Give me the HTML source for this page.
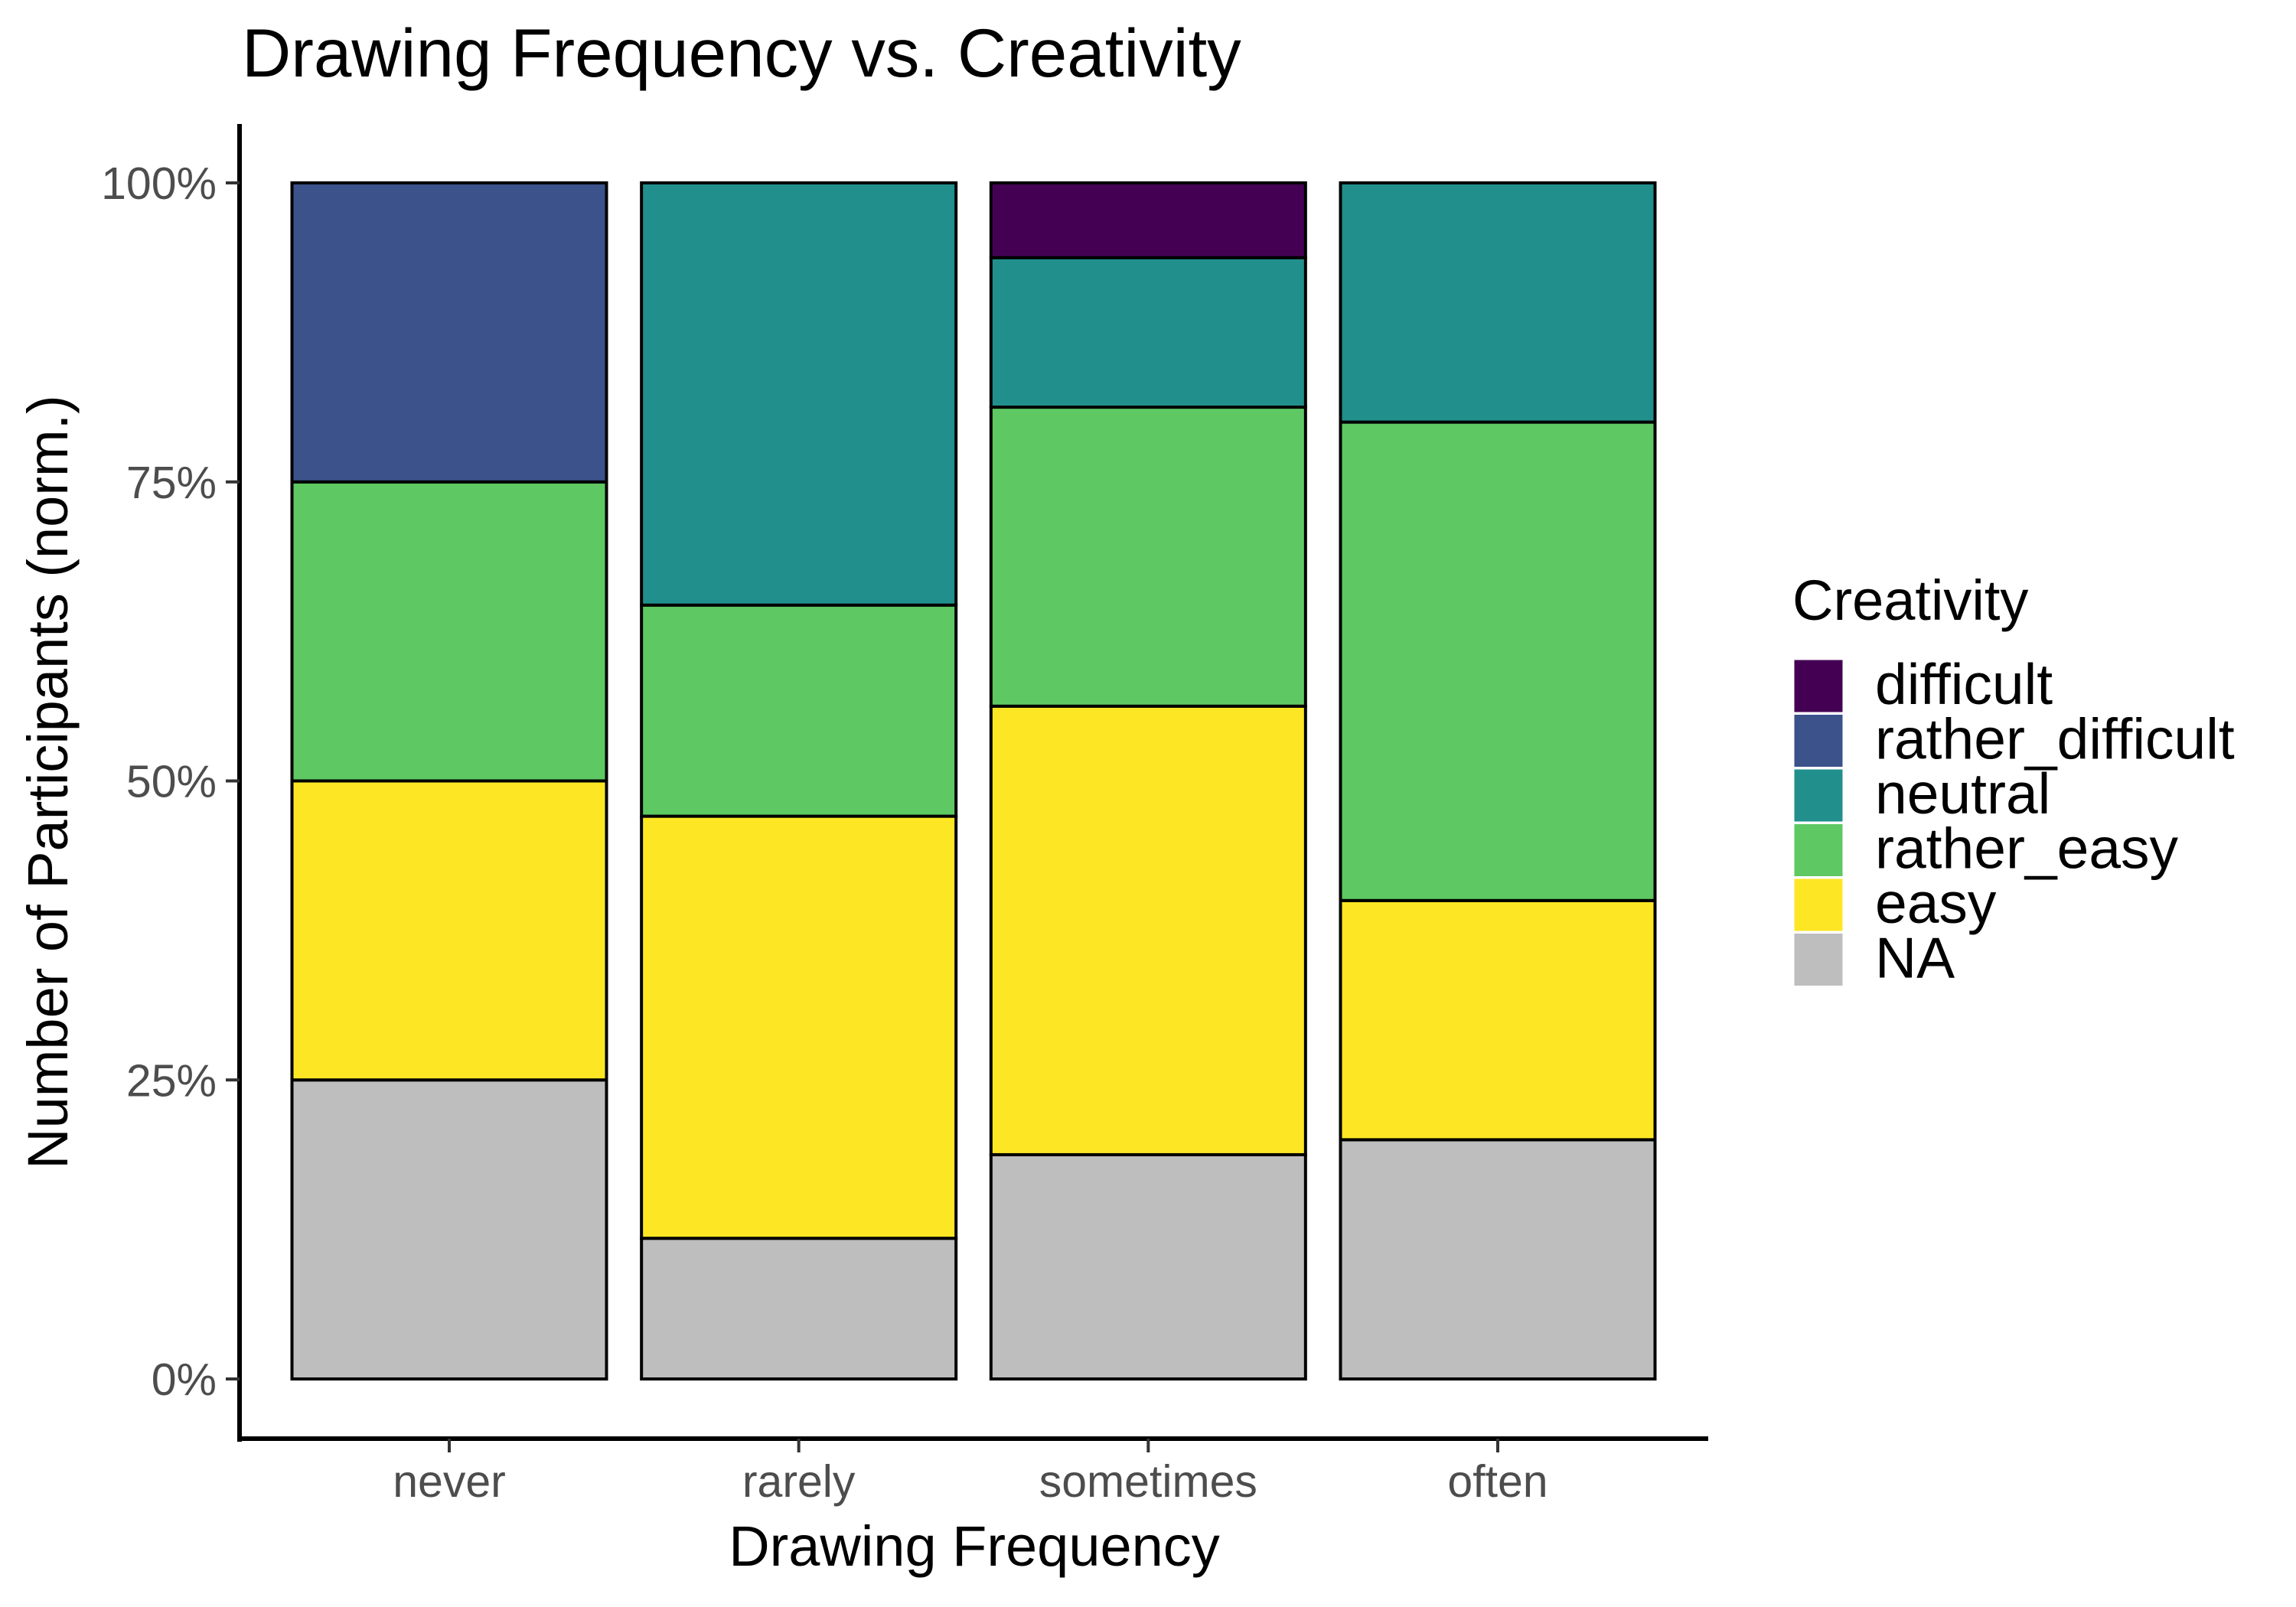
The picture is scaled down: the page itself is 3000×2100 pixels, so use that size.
<!DOCTYPE html>
<html><head><meta charset="utf-8"><style>
html,body{margin:0;padding:0;background:#fff;}
svg{display:block;font-family:"Liberation Sans",Arial,sans-serif;}
</style></head><body>
<svg id="chart" width="3000" height="2100" viewBox="0 0 3000 2100" xmlns="http://www.w3.org/2000/svg">
<text x="316" y="100" font-size="89" fill="#000">Drawing Frequency vs. Creativity</text>
<g id="plot"></g>
<line x1="313" y1="162" x2="313" y2="1884" stroke="#000" stroke-width="6"/>
<line x1="310" y1="1880" x2="2232" y2="1880" stroke="#000" stroke-width="6"/>
<g id="yticks"></g>
<g id="xticks"></g>
<text x="1273" y="2046" font-size="74" text-anchor="middle" fill="#000">Drawing Frequency</text>
<text transform="translate(88,1022) rotate(-90)" font-size="74" text-anchor="middle" fill="#000">Number of Participants (norm.)</text>
<g id="legend">
<text x="2342" y="810" font-size="74" fill="#000">Creativity</text>
</g>
</svg>
<script>
const categories = ["never", "rarely", "sometimes", "often"];
const seriesNames = ["NA", "easy", "rather_easy", "neutral", "rather_difficult", "difficult"];
const seriesNA = [25, 11.76, 18.75, 20];
const seriesEasy = [25, 35.29, 37.5, 20];
const seriesRatherEasy = [25, 17.65, 25, 40];
const seriesNeutral = [0, 35.3, 12.5, 20];
const seriesRatherDifficult = [25, 0, 0, 0];
const seriesDifficult = [0, 0, 6.25, 0];
const yTickValues = [0, 25, 50, 75, 100];
const yTickLabels = ["0%", "25%", "50%", "75%", "100%"];

const colors = {"NA":"#bebebe","easy":"#fde725","rather_easy":"#5ec962","neutral":"#21908c","rather_difficult":"#3b528b","difficult":"#440154"};
const allSeries = [seriesNA, seriesEasy, seriesRatherEasy, seriesNeutral, seriesRatherDifficult, seriesDifficult];
const NS = "http://www.w3.org/2000/svg";
const x0 = 313, x1 = 2231, y0 = 1802, y100 = 239;
const step = (x1 - x0) / (categories.length + 0.2);
function xScale(i){ return x0 + (0.6 + i) * step; }
function yScale(v){ return y0 - (v / 100) * (y0 - y100); }
const barW = step * 0.9;
const plot = document.getElementById("plot");
categories.forEach((c, i) => {
  let total = 0; allSeries.forEach(s => total += s[i]);
  let cum = 0;
  allSeries.forEach((s, k) => {
    const v = s[i] / total * 100;
    if (v <= 0) return;
    const r = document.createElementNS(NS, "rect");
    r.setAttribute("x", xScale(i) - barW / 2);
    r.setAttribute("y", yScale(cum + v));
    r.setAttribute("width", barW);
    r.setAttribute("height", yScale(cum) - yScale(cum + v));
    r.setAttribute("fill", colors[seriesNames[k]]);
    r.setAttribute("stroke", "#000");
    r.setAttribute("stroke-width", "4");
    
    
    plot.appendChild(r);
    cum += v;
  });
});
const yt = document.getElementById("yticks");
yTickValues.forEach((v, i) => {
  const y = yScale(v);
  const l = document.createElementNS(NS, "line");
  l.setAttribute("x1", 295); l.setAttribute("x2", 313);
  l.setAttribute("y1", y); l.setAttribute("y2", y);
  l.setAttribute("stroke", "#333"); l.setAttribute("stroke-width", "4");
  
  
  yt.appendChild(l);
  const t = document.createElementNS(NS, "text");
  t.setAttribute("x", 283); t.setAttribute("y", y + 21);
  t.setAttribute("text-anchor", "end"); t.setAttribute("font-size", "59");
  t.setAttribute("fill", "#4d4d4d");
  t.textContent = yTickLabels[i];
  
  
  yt.appendChild(t);
});
const xt = document.getElementById("xticks");
categories.forEach((c, i) => {
  const x = xScale(i);
  const l = document.createElementNS(NS, "line");
  l.setAttribute("x1", x); l.setAttribute("x2", x);
  l.setAttribute("y1", 1880); l.setAttribute("y2", 1898);
  l.setAttribute("stroke", "#333"); l.setAttribute("stroke-width", "4");
  
  
  xt.appendChild(l);
  const t = document.createElementNS(NS, "text");
  t.setAttribute("x", x); t.setAttribute("y", 1956);
  t.setAttribute("text-anchor", "middle"); t.setAttribute("font-size", "59");
  t.setAttribute("fill", "#4d4d4d");
  t.textContent = c;
  
  
  xt.appendChild(t);
});
const legendOrder = ["difficult", "rather_difficult", "neutral", "rather_easy", "easy", "NA"];
const lg = document.getElementById("legend");
legendOrder.forEach((n, i) => {
  const y = 861 + i * 71.5;
  const r = document.createElementNS(NS, "rect");
  r.setAttribute("x", 2343); r.setAttribute("y", y);
  r.setAttribute("width", 66); r.setAttribute("height", 71);
  r.setAttribute("fill", colors[n]); r.setAttribute("stroke", "#fff"); r.setAttribute("stroke-width", "3");
  
  
  lg.appendChild(r);
  const t = document.createElementNS(NS, "text");
  t.setAttribute("x", 2450); t.setAttribute("y", y + 59);
  t.setAttribute("font-size", "75"); t.setAttribute("fill", "#000");
  t.textContent = n;
  
  
  lg.appendChild(t);
});
</script>
</body></html>
